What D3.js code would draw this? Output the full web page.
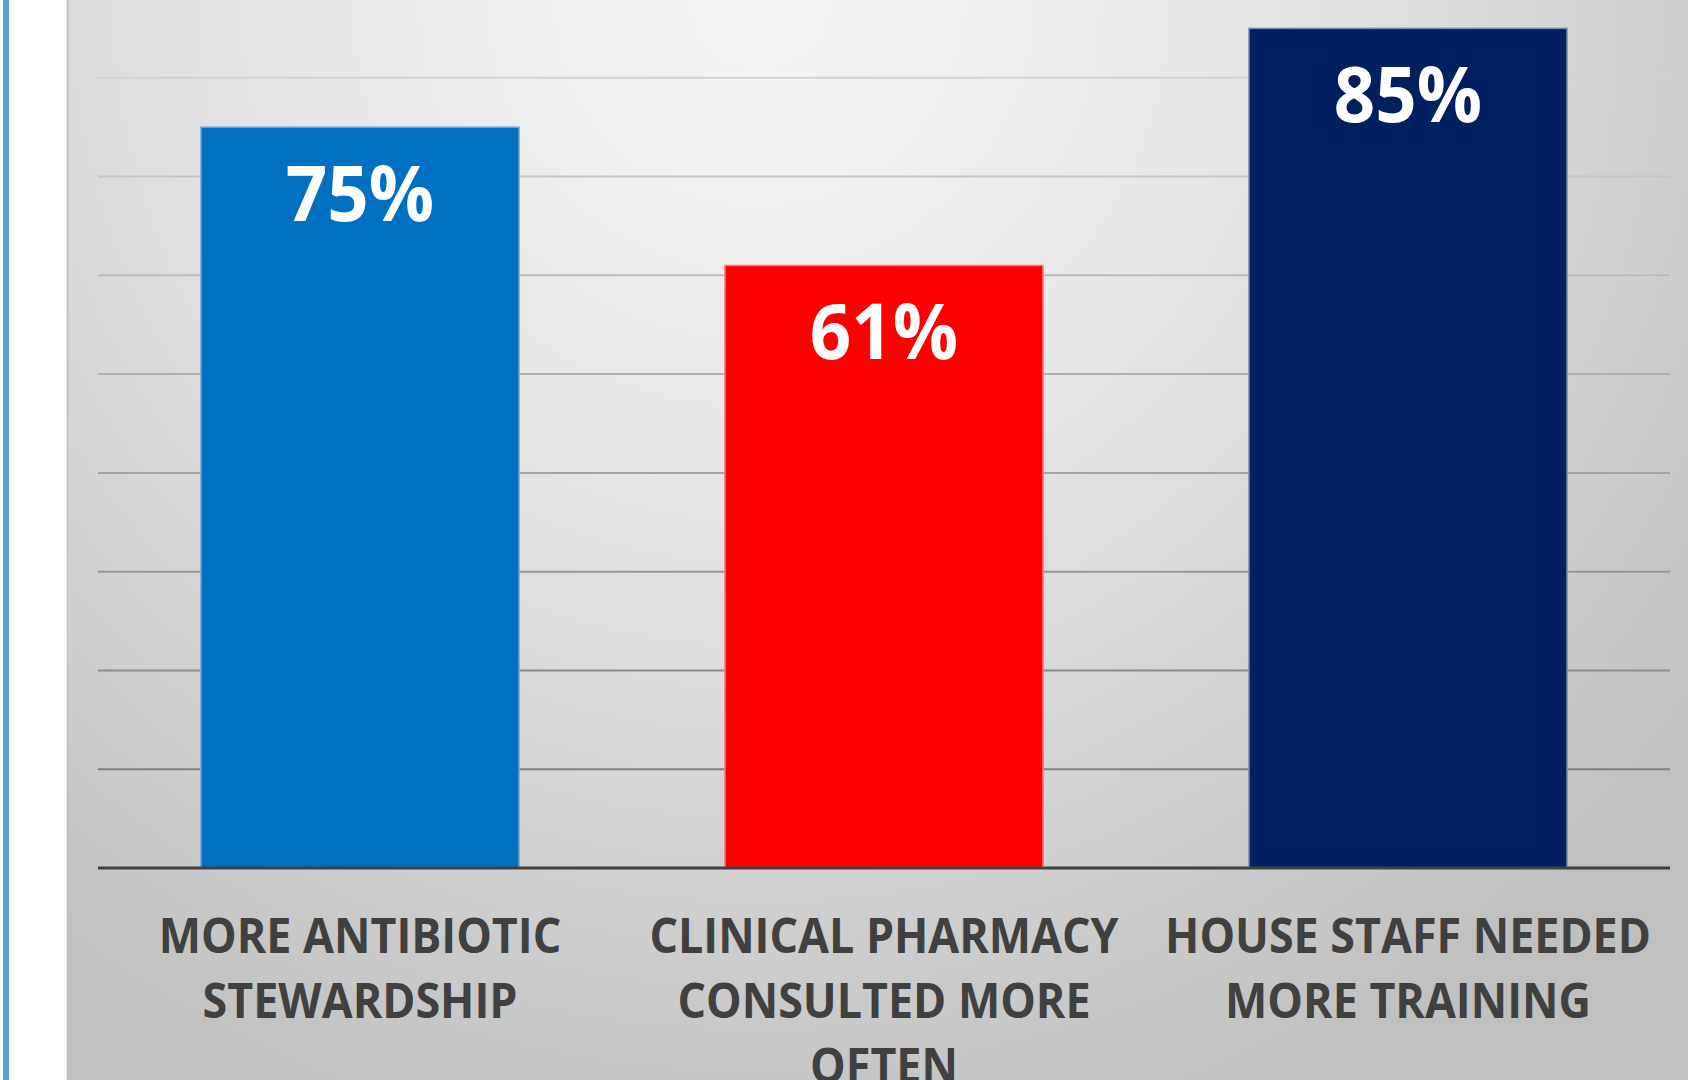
<!DOCTYPE html>
<html>
<head>
<meta charset="utf-8">
<script src="https://cdn.jsdelivr.net/npm/d3@7"></script>
<style>
  html, body { margin: 0; padding: 0; background: #ffffff; overflow: hidden; }
  text { font-family: "Open Sans", "Noto Sans", sans-serif; font-weight: 700; }
</style>
</head>
<body>
<div id="chart"></div>
<script>
// chart data
var categories = ["MORE ANTIBIOTIC STEWARDSHIP", "CLINICAL PHARMACY CONSULTED MORE OFTEN", "HOUSE STAFF NEEDED MORE TRAINING"];
var labelLines = [
  ["MORE ANTIBIOTIC", "STEWARDSHIP"],
  ["CLINICAL PHARMACY", "CONSULTED MORE", "OFTEN"],
  ["HOUSE STAFF NEEDED", "MORE TRAINING"]
];
var values = [0.75, 0.61, 0.85];
var barColors = ["#0070C0", "#FF0000", "#002060"];
var barEdges  = ["#6ea6d8", "#ff7a7a", "#7d8daf"];
var gridTicks = [0.1, 0.2, 0.3, 0.4, 0.5, 0.6, 0.7, 0.8];

function draw() {
  var W = 1688, H = 1080;
  var plotLeft = 98, plotRight = 1670;
  var plotBottom = 868, plotTop = -21;
  var squeeze = 0.93;      // narrow the fallback font toward Calibri widths
  var labelSqueeze = 0.915;

  var svg = d3.select("#chart")
    .append("svg")
      .attr("width", W)
      .attr("height", H);

  var defs = svg.append("defs");
  var grad = defs.append("radialGradient")
      .attr("id", "bg")
      .attr("gradientUnits", "userSpaceOnUse")
      .attr("cx", 760).attr("cy", 0).attr("r", 1200);
  grad.append("stop").attr("offset", 0).attr("stop-color", "#f6f6f6");
  grad.append("stop").attr("offset", 0.4).attr("stop-color", "#e6e6e6");
  grad.append("stop").attr("offset", 1).attr("stop-color", "#c0c0c0");

  // left white margin with blue rule
  svg.append("rect")
      .attr("x", 3).attr("y", 0)
      .attr("width", 6).attr("height", H)
      .attr("fill", "#5f9edb");

  svg.append("rect")
      .attr("x", 67).attr("y", 0)
      .attr("width", W - 67).attr("height", H)
      .attr("fill", "url(#bg)");
  svg.append("line")
      .attr("x1", 67.5).attr("x2", 67.5)
      .attr("y1", 0).attr("y2", H)
      .attr("stroke", "#bdbdbd")
      .attr("stroke-width", 1.5);

  var x = d3.scaleBand()
      .domain(categories)
      .range([plotLeft, plotRight])
      .paddingInner(0.393)
      .paddingOuter(0.1965);

  var y = d3.scaleLinear()
      .domain([0, 0.9])
      .range([plotBottom, plotTop]);

  var gridColor = d3.scaleLinear()
      .domain([0.1, 0.8])
      .range(["#808080", "#d2d2d2"])
      .interpolate(d3.interpolateRgb);

  var g = svg.append("g");

  g.selectAll("line.grid")
    .data(gridTicks)
    .enter().append("line")
      .attr("class", "grid")
      .attr("x1", plotLeft).attr("x2", plotRight)
      .attr("y1", (d) => y(d)).attr("y2", (d) => y(d))
      .attr("stroke", (d) => gridColor(d))
      .attr("stroke-width", 2);

  g.selectAll("rect.bar")
    .data(values)
    .enter().append("rect")
      .attr("class", "bar")
      .attr("x", (d, i) => x(categories[i]))
      .attr("y", (d) => y(d))
      .attr("width", x.bandwidth())
      .attr("height", (d) => y(0) - y(d))
      .attr("fill", (d, i) => barColors[i])
      .attr("stroke", (d, i) => barEdges[i])
      .attr("stroke-width", 1.5);

  // axis line
  g.append("line")
      .attr("x1", plotLeft).attr("x2", plotRight)
      .attr("y1", y(0)).attr("y2", y(0))
      .attr("stroke", "#404040")
      .attr("stroke-width", 3);

  // value labels
  g.selectAll("text.value")
    .data(values)
    .enter().append("text")
      .attr("class", "value")
      .attr("transform", (d, i) =>
        "translate(" + (x(categories[i]) + x.bandwidth() / 2) + "," + (y(d) + 94) + ") scale(" + squeeze + ",1)")
      .attr("text-anchor", "middle")
      .attr("font-size", 78)
      .attr("fill", "#ffffff")
      .text((d) => Math.round(d * 100) + "%");

  // category labels
  labelLines.forEach((lines, i) => {
    var cx = x(categories[i]) + x.bandwidth() / 2;
    lines.forEach((s, k) => {
      g.append("text")
        .attr("transform", "translate(" + cx + "," + (y(0) + 85 + k * 65) + ") scale(" + labelSqueeze + ",1)")
        .attr("text-anchor", "middle")
        .attr("font-size", 49)
        .attr("fill", "#404040")
        .text(s);
    });
  });
}

draw();
</script>
</body>
</html>
